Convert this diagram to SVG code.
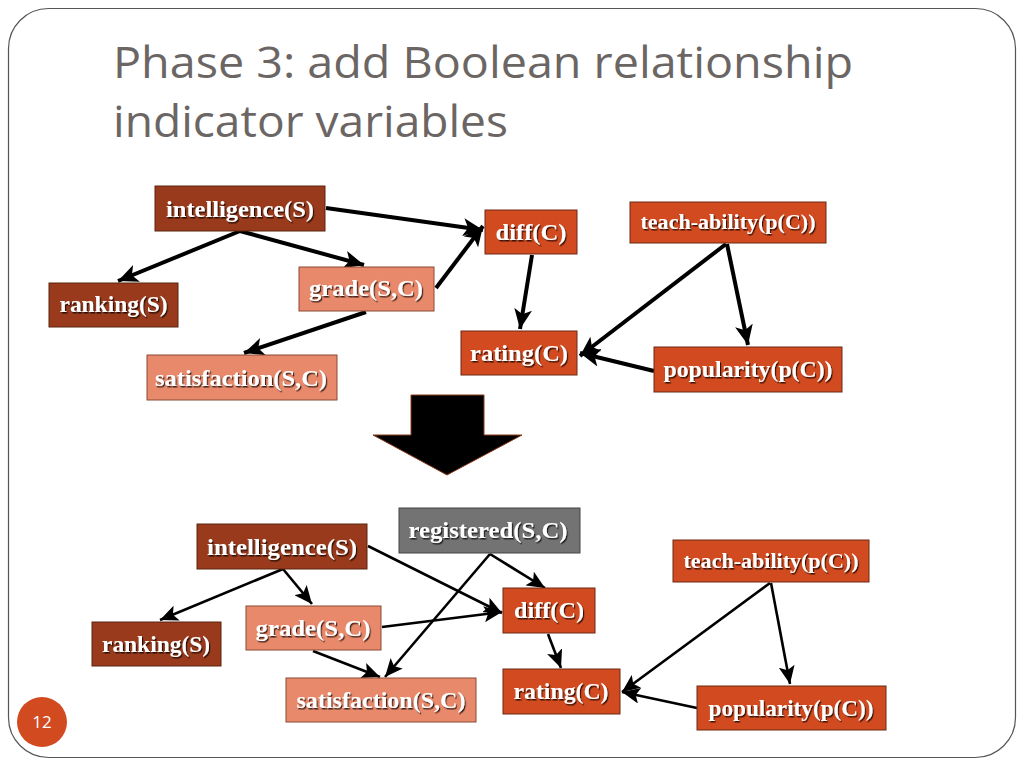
<svg xmlns="http://www.w3.org/2000/svg" width="1024" height="768" viewBox="0 0 1024 768">
<defs>
<style>
.t{font-family:"Liberation Serif","DejaVu Serif",serif;font-weight:bold;fill:#fff;text-anchor:middle;filter:url(#sh)}
.dk{fill:#983a1b;stroke:#5a2410;stroke-width:1}
.or{fill:#d24a1f;stroke:#6a2a14;stroke-width:1}
.lt{fill:#e8896b;stroke:#8a4a34;stroke-width:1}
.gr{fill:#737373;stroke:#444;stroke-width:1}
.e1{stroke:#000;stroke-width:4;fill:none;marker-end:url(#ah1)}
.e2{stroke:#000;stroke-width:2.6;fill:none;marker-end:url(#ah2)}
.title{font-family:"Open Sans","Liberation Sans",sans-serif;font-size:44px;fill:#6b6664}
</style>
<filter id="sh" x="-10%" y="-20%" width="120%" height="150%">
<feDropShadow dx="1.2" dy="1.5" stdDeviation="0.6" flood-color="#000" flood-opacity="0.75"/>
</filter>
<marker id="ah1" markerUnits="userSpaceOnUse" markerWidth="22" markerHeight="18" refX="20" refY="9" orient="auto">
<path d="M0,0 L20,9 L0,18 L5,9 z" fill="#000"/>
</marker>
<marker id="ah2" markerUnits="userSpaceOnUse" markerWidth="20" markerHeight="16" refX="18" refY="8" orient="auto">
<path d="M0,0 L18,8 L0,16 L4,8 z" fill="#000"/>
</marker>
</defs>
<rect x="0" y="0" width="1024" height="768" fill="#fff"/>
<rect x="8.5" y="8.5" width="1007" height="749" rx="40" ry="40" fill="none" stroke="#555" stroke-width="1.2"/>
<text class="title" x="113" y="78" textLength="740" lengthAdjust="spacingAndGlyphs">Phase 3: add Boolean relationship</text>
<text class="title" x="113" y="137" textLength="395" lengthAdjust="spacingAndGlyphs">indicator variables</text>

<g id="connectors">
<line class="e1" x1="240" y1="231" x2="118" y2="281"/>
<line class="e1" x1="240" y1="231" x2="364" y2="265"/>
<line class="e1" x1="326" y1="208" x2="483" y2="230"/>
<line class="e1" x1="436" y1="288" x2="483" y2="226"/>
<line class="e1" x1="366" y1="312" x2="244" y2="353"/>
<line class="e1" x1="532" y1="255" x2="520" y2="329"/>
<line class="e1" x1="726" y1="244" x2="580" y2="356"/>
<line class="e1" x1="727" y1="244" x2="748" y2="345"/>
<line class="e1" x1="654" y1="371" x2="580" y2="353"/>

<line class="e2" x1="283" y1="569" x2="312" y2="604"/>
<line class="e2" x1="283" y1="569" x2="160" y2="620"/>
<line class="e2" x1="368" y1="546" x2="502" y2="613"/>
<line class="e2" x1="490" y1="554" x2="385" y2="677"/>
<line class="e2" x1="490" y1="554" x2="545" y2="588"/>
<line class="e2" x1="382" y1="627" x2="502" y2="612"/>
<line class="e2" x1="313" y1="651" x2="380" y2="677"/>
<line class="e2" x1="548" y1="634" x2="561" y2="668"/>
<line class="e2" x1="770" y1="583" x2="622" y2="692"/>
<line class="e2" x1="771" y1="583" x2="790" y2="684"/>
<line class="e2" x1="697" y1="708" x2="622" y2="692"/>
</g>

<g id="bigarrow">
<path d="M411,395 L484,395 L484,435 L522,435 L447,475 L373,435 L411,435 Z" fill="#000" stroke="#8a3a1a" stroke-width="1"/>
</g>

<g id="top-intelligence"><rect class="dk" x="155" y="186" width="170" height="45"/><text class="t" x="240" y="217" font-size="24" textLength="148" lengthAdjust="spacingAndGlyphs">intelligence(S)</text></g>
<g id="top-ranking"><rect class="dk" x="49" y="283" width="129" height="44"/><text class="t" x="113.5" y="312" font-size="24" textLength="108" lengthAdjust="spacingAndGlyphs">ranking(S)</text></g>
<g id="top-grade"><rect class="lt" x="299" y="267" width="135" height="44"/><text class="t" x="366" y="296" font-size="24" textLength="114" lengthAdjust="spacingAndGlyphs">grade(S,C)</text></g>
<g id="top-satisfaction"><rect class="lt" x="147" y="355" width="190" height="45"/><text class="t" x="241" y="386" font-size="24" textLength="172" lengthAdjust="spacingAndGlyphs">satisfaction(S,C)</text></g>
<g id="top-diff"><rect class="or" x="485" y="210" width="92" height="44"/><text class="t" x="531" y="240" font-size="24" textLength="71" lengthAdjust="spacingAndGlyphs">diff(C)</text></g>
<g id="top-teach"><rect class="or" x="630" y="202" width="196" height="41"/><text class="t" x="728" y="229" font-size="20" textLength="175" lengthAdjust="spacingAndGlyphs">teach-ability(p(C))</text></g>
<g id="top-rating"><rect class="or" x="461" y="331" width="116" height="44"/><text class="t" x="519" y="361" font-size="24" textLength="98" lengthAdjust="spacingAndGlyphs">rating(C)</text></g>
<g id="top-popularity"><rect class="or" x="654" y="347" width="188" height="45"/><text class="t" x="748" y="377" font-size="24" textLength="169" lengthAdjust="spacingAndGlyphs">popularity(p(C))</text></g>

<g id="bot-intelligence"><rect class="dk" x="197" y="524" width="170" height="45"/><text class="t" x="282" y="555" font-size="24" textLength="150" lengthAdjust="spacingAndGlyphs">intelligence(S)</text></g>
<g id="bot-registered"><rect class="gr" x="399" y="508" width="181" height="45"/><text class="t" x="488" y="538" font-size="24" textLength="159" lengthAdjust="spacingAndGlyphs">registered(S,C)</text></g>
<g id="bot-ranking"><rect class="dk" x="92" y="622" width="129" height="44"/><text class="t" x="156" y="652" font-size="24" textLength="108" lengthAdjust="spacingAndGlyphs">ranking(S)</text></g>
<g id="bot-grade"><rect class="lt" x="246" y="606" width="135" height="44"/><text class="t" x="313" y="636" font-size="24" textLength="115" lengthAdjust="spacingAndGlyphs">grade(S,C)</text></g>
<g id="bot-satisfaction"><rect class="lt" x="286" y="678" width="190" height="44"/><text class="t" x="381" y="708" font-size="24" textLength="169" lengthAdjust="spacingAndGlyphs">satisfaction(S,C)</text></g>
<g id="bot-diff"><rect class="or" x="503" y="588" width="92" height="45"/><text class="t" x="549" y="618" font-size="24" textLength="70" lengthAdjust="spacingAndGlyphs">diff(C)</text></g>
<g id="bot-rating"><rect class="or" x="503" y="669" width="117" height="45"/><text class="t" x="561" y="699" font-size="24" textLength="95" lengthAdjust="spacingAndGlyphs">rating(C)</text></g>
<g id="bot-teach"><rect class="or" x="673" y="540" width="196" height="42"/><text class="t" x="771" y="568" font-size="20" textLength="175" lengthAdjust="spacingAndGlyphs">teach-ability(p(C))</text></g>
<g id="bot-popularity"><rect class="or" x="697" y="686" width="189" height="44"/><text class="t" x="791" y="716" font-size="24" textLength="165" lengthAdjust="spacingAndGlyphs">popularity(p(C))</text></g>

<g id="pagenum">
<circle cx="42" cy="722" r="25" fill="#d24a1f"/>
<text x="42" y="728" font-family="'Open Sans','Liberation Sans',sans-serif" font-size="17" fill="#fff" text-anchor="middle">12</text>
</g>
</svg>
